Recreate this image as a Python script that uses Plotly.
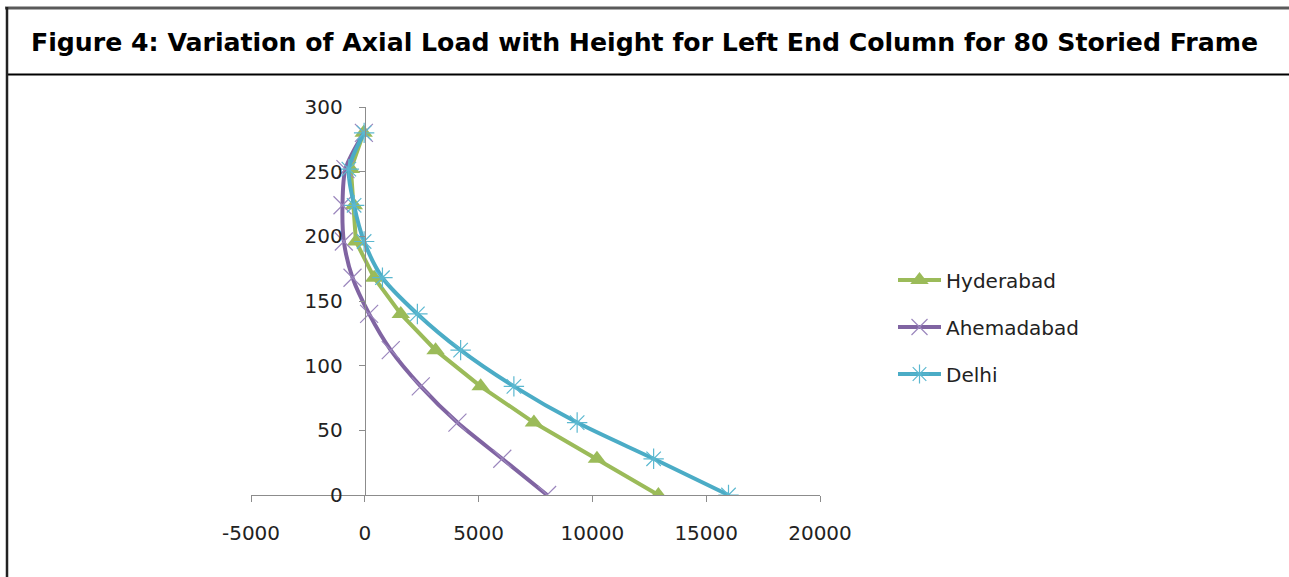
import plotly.graph_objects as go

# ---- data ----
heights = [0, 28, 56, 84, 112, 140, 168, 196, 224, 252, 280]
hyderabad = [12900, 10200, 7430, 5090, 3110, 1580, 410, -390, -480, -610, -50]
ahemadabad = [8010, 6040, 4070, 2460, 1140, 190, -540, -920, -980, -850, -40]
delhi = [15980, 12690, 9330, 6550, 4210, 2310, 775, -30, -470, -700, -30]
x_ticks = [-5000, 0, 5000, 10000, 15000, 20000]
x_tick_labels = ["-5000", "0", "5000", "10000", "15000", "20000"]
y_ticks = [0, 50, 100, 150, 200, 250, 300]
y_tick_labels = ["0", "50", "100", "150", "200", "250", "300"]
title_text = "Figure 4: Variation of Axial Load with Height for Left End Column for 80 Storied Frame"

W, H = 1289, 577
L, R, T, B = 251, 469, 107, 82
pw, ph = W - L - R, H - T - B


def px2x(px):
    return (px - L) / pw


def py2y(py):
    return (H - B - py) / ph


FONT = "DejaVu Sans"
fig = go.Figure()

fig.add_trace(go.Scatter(
    x=hyderabad, y=heights, name="Hyderabad", mode="lines+markers",
    line=dict(color="#9BBB59", width=4, shape="linear"),
    marker=dict(symbol="triangle-up", size=16, color="#9BBB59"),
    legendgroup="a"))
fig.add_trace(go.Scatter(
    x=ahemadabad, y=heights, name="Ahemadabad", mode="lines+markers",
    line=dict(color="#8064A2", width=4, shape="spline", smoothing=0.8),
    marker=dict(symbol="x-thin-open", size=18, color="#9B86BD",
                line=dict(color="#9B86BD", width=1.2)),
    legendgroup="b"))
fig.add_trace(go.Scatter(
    x=delhi, y=heights, name="Delhi", mode="lines+markers",
    line=dict(color="#4BACC6", width=4, shape="spline", smoothing=0.8),
    marker=dict(symbol="asterisk-open", size=17, color="#5BB8D0",
                line=dict(color="#5BB8D0", width=1.2)),
    legendgroup="c"))

axis_col = "#8C8C8C"
fig.update_layout(
    width=W, height=H,
    margin=dict(l=L, r=R, t=T, b=B),
    paper_bgcolor="white", plot_bgcolor="white",
    font=dict(family=FONT, size=20, color="#222222"),
    title=dict(text="<b>" + title_text + "</b>", x=0.5, xref="container",
               xanchor="center", y=1 - 42 / H, yref="container", yanchor="middle",
               font=dict(family=FONT, size=25.2, color="black")),
    xaxis=dict(range=[-5000, 20000], tickvals=x_ticks, ticktext=x_tick_labels,
               showgrid=False, zeroline=False,
               showline=True, linecolor=axis_col, linewidth=1.3,
               ticks="outside", ticklen=6, tickcolor=axis_col,
               ticklabelstandoff=14, tickfont=dict(size=20, color="#222222")),
    yaxis=dict(range=[0, 300], tickvals=y_ticks, ticktext=y_tick_labels,
               showgrid=False, zeroline=False,
               showline=True, linecolor=axis_col, linewidth=1.3,
               anchor="free", position=0.2,
               ticks="outside", ticklen=6, tickcolor=axis_col,
               ticklabelstandoff=12, tickfont=dict(size=20, color="#222222")),
    legend=dict(x=px2x(893), xanchor="left", y=py2y(327), yanchor="middle",
                font=dict(family=FONT, size=20, color="#222222"),
                itemwidth=43,
                tracegroupgap=18, bgcolor="rgba(0,0,0,0)"),
    showlegend=True,
)

# frame lines
fig.add_shape(type="line", xref="paper", yref="paper",
              x0=px2x(5), x1=px2x(W), y0=py2y(8), y1=py2y(8),
              line=dict(color="#5A5A5A", width=3))
fig.add_shape(type="line", xref="paper", yref="paper",
              x0=px2x(7), x1=px2x(W), y0=py2y(74.5), y1=py2y(74.5),
              line=dict(color="black", width=2))
fig.add_shape(type="line", xref="paper", yref="paper",
              x0=px2x(7), x1=px2x(7), y0=py2y(7), y1=py2y(H),
              line=dict(color="#222222", width=2.5))

fig.write_html("out.html")
